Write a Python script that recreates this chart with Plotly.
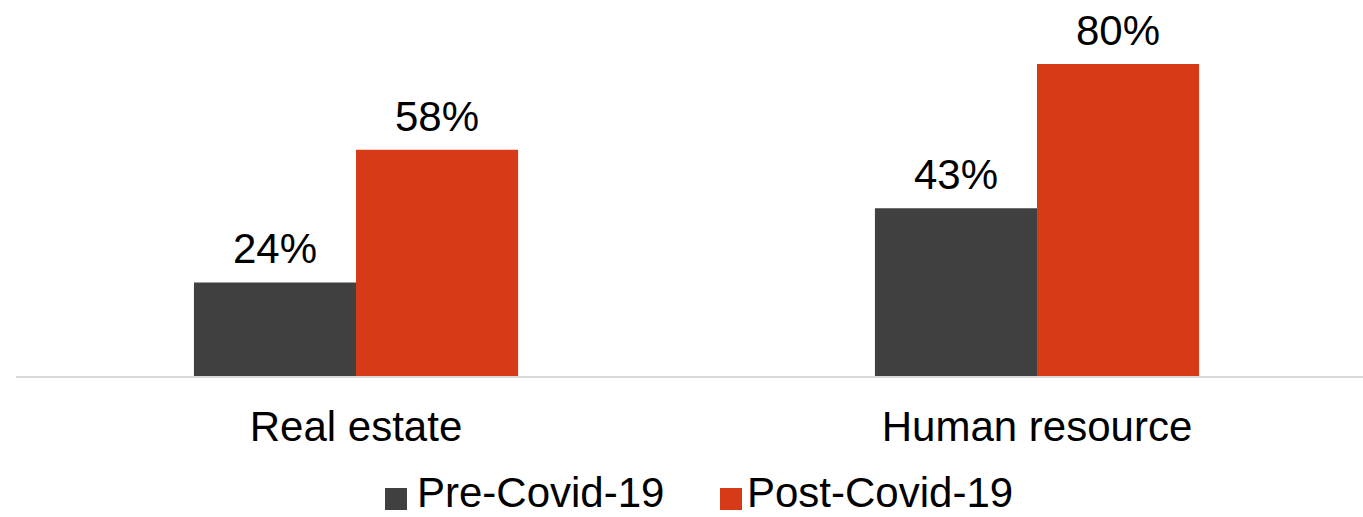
import plotly.graph_objects as go

# Data
categories = ["Real estate", "Human resource"]
series_names = ["Pre-Covid-19", "Post-Covid-19"]
pre_covid = [24, 43]
post_covid = [58, 80]

# Styling
colors = ["#404040", "#D63A17"]
FONT = "Liberation Sans, Arial, sans-serif"
FONT_SIZE = 42
W, H = 1363, 517
M_L, M_R, M_T, M_B = 16, 0, 0, 141
BARGAP = 0.524
X_RANGE = [-0.4993, 1.4787]
Y_RANGE = [0, 96.4]

plot_w = W - M_L - M_R
plot_h = H - M_T - M_B
px_per_cat = plot_w / (X_RANGE[1] - X_RANGE[0])
bar_px = (1 - BARGAP) / 2 * px_per_cat

fig = go.Figure()
for name, vals, col in zip(series_names, [pre_covid, post_covid], colors):
    fig.add_trace(go.Bar(x=categories, y=vals, name=name, marker_color=col,
                         marker_line_width=0, showlegend=False))

# Value labels above each bar
annotations = []
for vals, sign in zip([pre_covid, post_covid], [-1, 1]):
    for cat, v in zip(categories, vals):
        annotations.append(dict(
            x=cat, y=v, xref="x", yref="y", text=f"{v}%", showarrow=False,
            xanchor="center", yanchor="bottom", xshift=sign * bar_px / 2,
            yshift=8, font=dict(family=FONT, size=FONT_SIZE, color="#000000")))

# Legend drawn below the axis
def px_to_paper_x(px):
    return (px - M_L) / plot_w

def px_to_paper_y(py):
    return (M_T + plot_h - py) / plot_h

shapes = []
legend_items = [(385, 416), (720, 746)]
for (sq_x, txt_x), name, col in zip(legend_items, series_names, colors):
    shapes.append(dict(type="rect", xref="paper", yref="paper",
                       x0=px_to_paper_x(sq_x), x1=px_to_paper_x(sq_x + 22),
                       y0=px_to_paper_y(510), y1=px_to_paper_y(488),
                       fillcolor=col, line_width=0))
    annotations.append(dict(
        x=px_to_paper_x(txt_x), y=px_to_paper_y(517), xref="paper", yref="paper",
        text=name, showarrow=False, xanchor="left", yanchor="bottom",
        borderpad=0,
        font=dict(family=FONT, size=FONT_SIZE, color="#000000")))

fig.update_layout(
    width=W, height=H,
    margin=dict(l=M_L, r=M_R, t=M_T, b=M_B),
    paper_bgcolor="white", plot_bgcolor="white",
    barmode="group", bargap=BARGAP, bargroupgap=0,
    annotations=annotations, shapes=shapes,
    xaxis=dict(type="category", range=X_RANGE, showline=True,
               linecolor="#D9D9D9", linewidth=1.5, ticks="", showgrid=False,
               tickfont=dict(family=FONT, size=FONT_SIZE, color="#000000"),
               ticklabelstandoff=13),
    yaxis=dict(range=Y_RANGE, visible=False, showgrid=False, zeroline=False),
)

fig.write_html("out.html")
